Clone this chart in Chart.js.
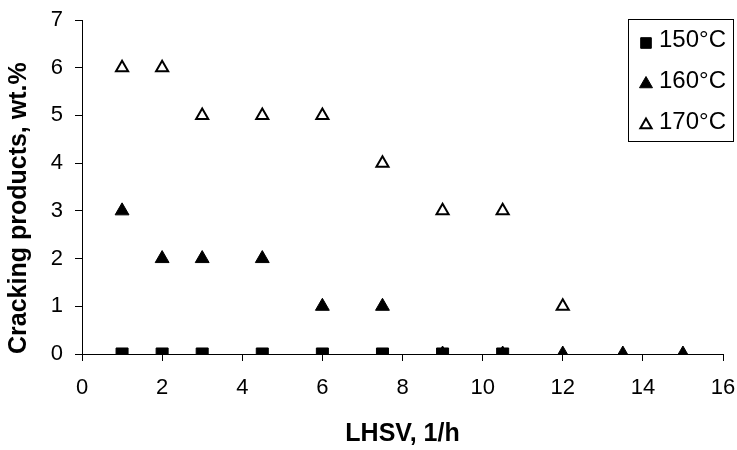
<!DOCTYPE html>
<html>
<head>
<meta charset="utf-8">
<script src="https://cdn.jsdelivr.net/npm/chart.js@4/dist/chart.umd.min.js"></script>
<style>
  html, body { margin: 0; padding: 0; background: #fff; }
  #wrap { width: 737px; height: 450px; }
</style>
</head>
<body>
<div id="wrap"><canvas id="c" width="737" height="450"></canvas></div>
<script>
// ── Data ────────────────────────────────────────────────────────────────────
const lhsv150 = [1, 2, 3, 4.5, 6, 7.5, 9, 10.5];
const crack150 = [0, 0, 0, 0, 0, 0, 0, 0];

const lhsv160 = [1, 2, 3, 4.5, 6, 7.5, 9, 10.5, 12, 13.5, 15];
const crack160 = [3, 2, 2, 2, 1, 1, 0, 0, 0, 0, 0];

const lhsv170 = [1, 2, 3, 4.5, 6, 7.5, 9, 10.5, 12];
const crack170 = [6, 6, 5, 5, 5, 4, 3, 3, 1];

const seriesLabels = ['150°C', '160°C', '170°C'];
const xTicks = [0, 2, 4, 6, 8, 10, 12, 14, 16];
const yTicks = [0, 1, 2, 3, 4, 5, 6, 7];

const FONT = "'Liberation Sans', Arial, sans-serif";
const pts = (xs, ys) => xs.map((x, i) => ({ x, y: ys[i] }));

// Legend drawn inside a framed box (Excel style)
const boxLegend = {
  id: 'boxLegend',
  afterDraw(chart) {
    const ctx = chart.ctx;
    const x0 = 628, y0 = 19, w = 105, h = 122;
    ctx.save();
    ctx.strokeStyle = '#000';
    ctx.lineWidth = 1;
    ctx.strokeRect(x0 + 0.5, y0 + 0.5, w, h);
    ctx.font = `24px ${FONT}`;
    ctx.fillStyle = '#000';
    ctx.textBaseline = 'middle';
    chart.data.datasets.forEach((ds, i) => {
      const cy = y0 + 21 + i * 41;
      ctx.save();
      ctx.fillStyle = ds.backgroundColor;
      ctx.strokeStyle = ds.borderColor;
      ctx.lineWidth = ds.borderWidth;
      Chart.helpers.drawPoint(ctx, {
        pointStyle: ds.pointStyle,
        radius: ds.pointStyle === 'rect' ? 7.5 : (i === 2 ? 6.5 : 7.5),
        borderWidth: ds.borderWidth
      }, 646, cy + 3);
      ctx.restore();
      ctx.fillText(ds.label, 659, cy);
    });
    ctx.restore();
  }
};

new Chart(document.getElementById('c'), {
  type: 'scatter',
  data: {
    datasets: [
      {
        label: seriesLabels[0],
        data: pts(lhsv150, crack150),
        pointStyle: 'rect',
        pointRadius: 8.5,
        backgroundColor: '#000',
        borderColor: '#000',
        borderWidth: 1
      },
      {
        label: seriesLabels[1],
        data: pts(lhsv160, crack160),
        pointStyle: 'triangle',
        pointRadius: 8,
        backgroundColor: '#000',
        borderColor: '#000',
        borderWidth: 1
      },
      {
        label: seriesLabels[2],
        data: pts(lhsv170, crack170),
        pointStyle: 'triangle',
        pointRadius: 7,
        backgroundColor: '#fff',
        borderColor: '#000',
        borderWidth: 2
      }
    ]
  },
  options: {
    responsive: false,
    animation: false,
    layout: { padding: { top: 20, right: 14, left: 0, bottom: 0 } },
    plugins: { legend: { display: false }, tooltip: { enabled: false } },
    scales: {
      x: {
        type: 'linear',
        min: 0, max: 16,
        afterBuildTicks: s => { s.ticks = xTicks.map(v => ({ value: v })); },
        afterFit: s => { s.height = 96; s.paddingLeft = 0; s.paddingRight = 0; },
        grid: { drawOnChartArea: false, drawTicks: true, tickLength: 7, color: '#000' },
        border: { display: true, color: '#000', width: 1 },
        ticks: { color: '#000', font: { family: FONT, size: 22 }, padding: 14, maxRotation: 0 },
        title: {
          display: true, text: 'LHSV, 1/h', color: '#000',
          font: { family: FONT, size: 25, weight: 'bold' },
          padding: { top: 4, bottom: 1 }
        }
      },
      y: {
        type: 'linear',
        min: 0, max: 7,
        afterBuildTicks: s => { s.ticks = yTicks.map(v => ({ value: v })); },
        afterFit: s => { s.width = 82; s.paddingTop = 0; s.paddingBottom = 0; },
        grid: { drawOnChartArea: false, drawTicks: true, tickLength: 7, color: '#000' },
        border: { display: true, color: '#000', width: 1 },
        ticks: { color: '#000', font: { family: FONT, size: 22 }, padding: 12 },
        title: {
          display: true, text: 'Cracking products, wt.%', color: '#000', align: 'start',
          font: { family: FONT, size: 25, weight: 'bold' },
          padding: { top: 4, bottom: 4 }
        }
      }
    }
  },
  plugins: [boxLegend]
});
</script>
</body>
</html>
